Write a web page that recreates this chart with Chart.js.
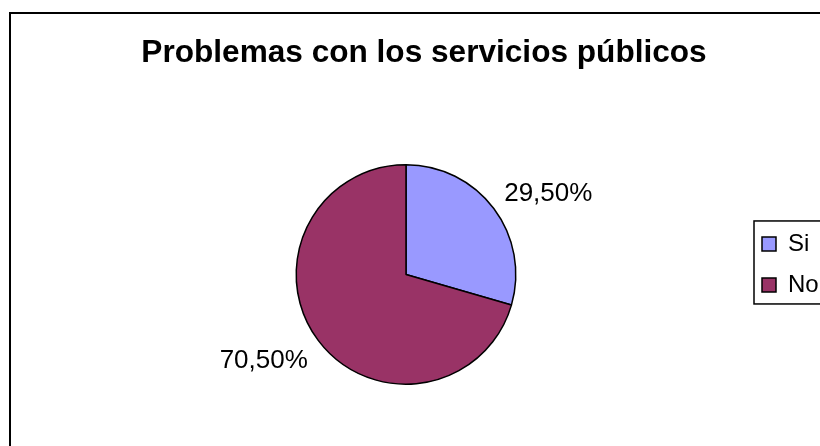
<!DOCTYPE html>
<html lang="es">
<head>
<meta charset="utf-8">
<title>Problemas con los servicios públicos</title>
<script src="https://cdn.jsdelivr.net/npm/chart.js@4.4.1/dist/chart.umd.min.js"></script>
<style>
    html, body { margin: 0; padding: 0; background: #fff; overflow: hidden; }
    #wrap { position: relative; width: 820px; height: 446px; overflow: hidden; }
    #serviciosChart { display: block; }
</style>
</head>
<body>
<div id="wrap"><canvas id="serviciosChart" width="880" height="446"></canvas></div>
<script>
const categorias = ['Si', 'No'];
const porcentajes = [29.5, 70.5];
const colores = ['#9999FF', '#993366'];
const titulo = 'Problemas con los servicios públicos';

const FONT = '"Liberation Sans", Arial, sans-serif';

const formatPct = v => v.toFixed(2).replace('.', ',') + '%';

// Marco exterior del gráfico (el lienzo sigue más allá del borde visible)
const chartFrame = {
    id: 'chartFrame',
    beforeDraw(chart) {
        const ctx = chart.ctx;
        ctx.save();
        ctx.strokeStyle = '#000';
        ctx.lineWidth = 2;
        ctx.strokeRect(10, 13, 1000, 1000);
        ctx.restore();
    }
};

// Ajustes finos: título centrado en todo el marco, leyenda algo más arriba
const layoutTweaks = {
    id: 'layoutTweaks',
    afterLayout(chart) {
        chart.titleBlock.left -= 22;
        chart.titleBlock.right -= 22;
        chart.legend.top -= 10;
        chart.legend.bottom -= 10;
    }
};

// Recuadro alrededor de la leyenda
const legendBox = {
    id: 'legendBox',
    afterDraw(chart) {
        const hb = chart.legend.legendHitBoxes;
        if (!hb || hb.length < 2) return;
        const first = hb[0].top + hb[0].height / 2;
        const last = hb[hb.length - 1].top + hb[hb.length - 1].height / 2;
        const ctx = chart.ctx;
        ctx.save();
        ctx.strokeStyle = '#000';
        ctx.lineWidth = 1.5;
        ctx.strokeRect(hb[0].left - 8, first - 23, 200, (last + 19) - (first - 23));
        ctx.restore();
    }
};

// Etiquetas de porcentaje fuera de cada porción
const sliceLabels = {
    id: 'sliceLabels',
    afterDatasetsDraw(chart) {
        const ctx = chart.ctx;
        const meta = chart.getDatasetMeta(0);
        ctx.save();
        ctx.font = '26px ' + FONT;
        ctx.fillStyle = '#000';
        meta.data.forEach((arc, i) => {
            const mid = (arc.startAngle + arc.endAngle) / 2;
            const r = arc.outerRadius + 13;
            const x = arc.x + Math.cos(mid) * r;
            const y = arc.y + Math.sin(mid) * r;
            ctx.textAlign = Math.cos(mid) >= 0 ? 'left' : 'right';
            ctx.textBaseline = Math.sin(mid) < 0 ? 'alphabetic' : 'top';
            ctx.fillText(formatPct(porcentajes[i]), x, y);
        });
        ctx.restore();
    }
};

new Chart(document.getElementById('serviciosChart'), {
    type: 'pie',
    data: {
        labels: categorias,
        datasets: [{
            data: porcentajes,
            backgroundColor: colores,
            borderColor: '#000',
            borderWidth: 1.5,
            hoverOffset: 0
        }]
    },
    options: {
        responsive: false,
        animation: false,
        layout: { padding: { left: 67, right: 55, top: 0, bottom: 61 } },
        plugins: {
            title: {
                display: true,
                text: titulo,
                color: '#000',
                font: { family: FONT, size: 31.6, weight: 'bold' },
                padding: { top: 34, bottom: 92 }
            },
            legend: {
                position: 'right',
                fullSize: false,
                maxWidth: 80,
                labels: {
                    color: '#000',
                    font: { family: FONT, size: 24 },
                    boxWidth: 14,
                    boxHeight: 14,
                    padding: 17
                }
            },
            tooltip: { enabled: false }
        }
    },
    plugins: [chartFrame, layoutTweaks, legendBox, sliceLabels]
});
</script>
</body>
</html>
